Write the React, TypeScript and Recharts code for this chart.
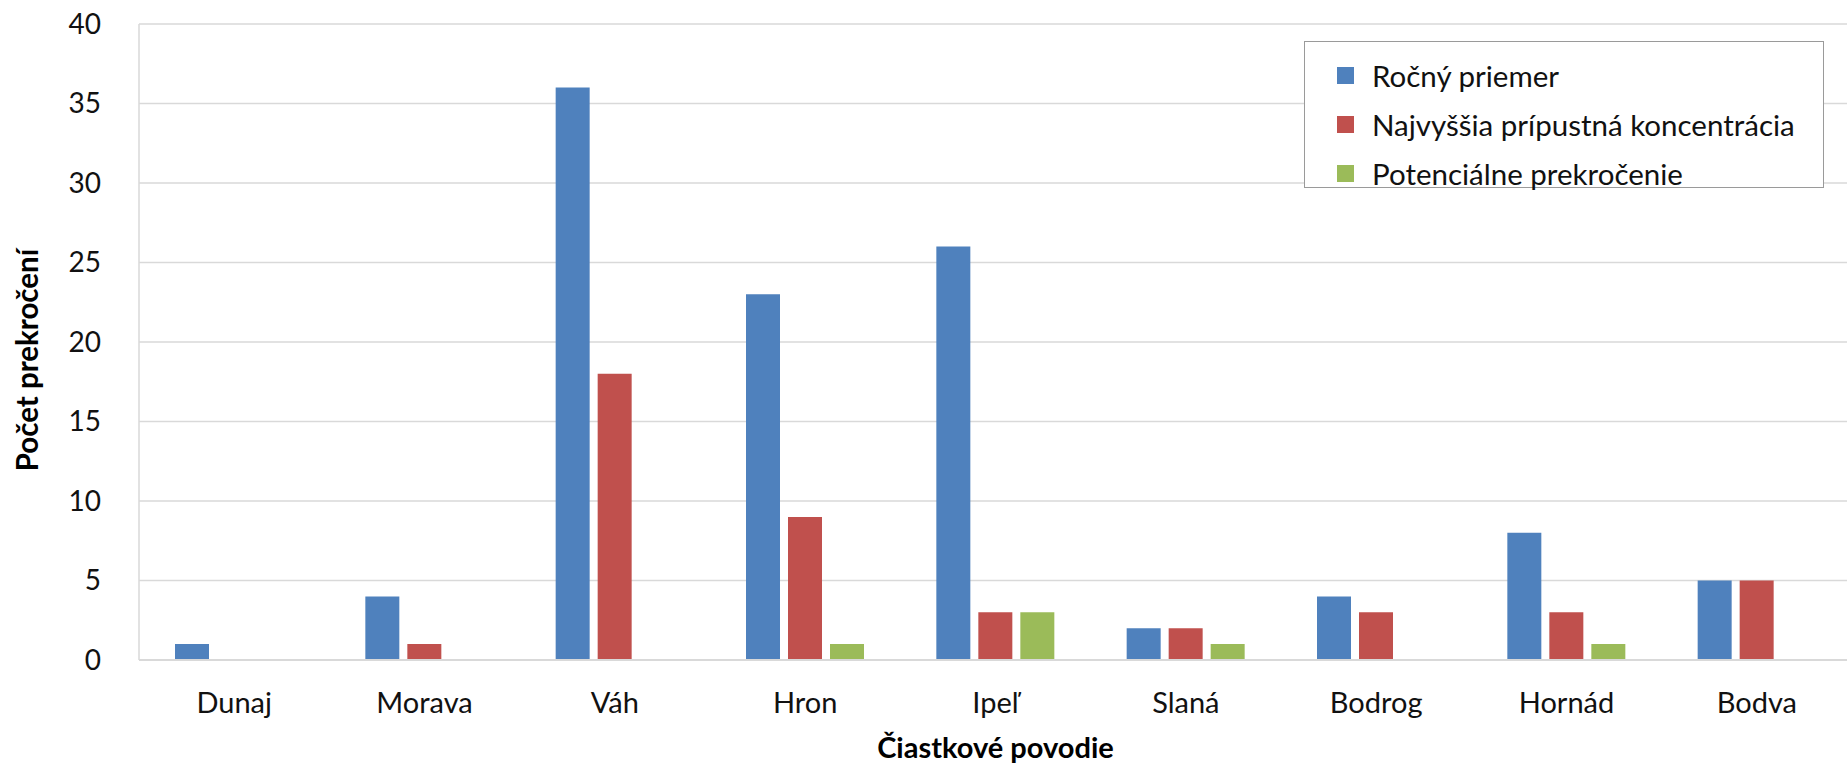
import React from "react";
import {
  BarChart,
  Bar,
  XAxis,
  YAxis,
  CartesianGrid
} from "recharts";

const povodia = ["Dunaj", "Morava", "Váh", "Hron", "Ipeľ", "Slaná", "Bodrog", "Hornád", "Bodva"];
const rocnyPriemer = [1, 4, 36, 23, 26, 2, 4, 8, 5];
const najvyssiaKoncentracia = [0, 1, 18, 9, 3, 2, 3, 3, 5];
const potencialnePrekrocenie = [0, 0, 0, 1, 3, 1, 0, 1, 0];
const yTicks = [0, 5, 10, 15, 20, 25, 30, 35, 40];

const series = [
  { key: "rocny", name: "Ročný priemer", color: "#4F81BD" },
  { key: "npk", name: "Najvyššia prípustná koncentrácia", color: "#C0504D" },
  { key: "pot", name: "Potenciálne prekročenie", color: "#9BBB59" }
];

const data = povodia.map((name, i) => ({
  name,
  rocny: rocnyPriemer[i],
  npk: najvyssiaKoncentracia[i],
  pot: potencialnePrekrocenie[i]
}));

const FONT = "Lato, 'Noto Sans', sans-serif";

// legend drawn as an overlay so it doesn't eat space from the plot
function LegendBox() {
  return (
    <div
      style={{
        position: "absolute",
        left: 1304,
        top: 41,
        width: 520,
        height: 147,
        boxSizing: "border-box",
        border: "1.5px solid #9a9a9a",
        background: "#fff",
        paddingTop: 9,
        fontFamily: FONT,
        fontSize: 29.5,
        color: "#111"
      }}
    >
      {series.map(s => (
        <div
          key={s.key}
          style={{ display: "flex", alignItems: "center", height: 49, paddingLeft: 32 }}
        >
          <span
            style={{ display: "inline-block", width: 17, height: 17, background: s.color, marginRight: 18 }}
          />
          <span>{s.name}</span>
        </div>
      ))}
    </div>
  );
}

function YTitle(props: any) {
  const vb = props.viewBox;
  const cy = vb.y + vb.height / 2 + 18;
  return (
    <text
      x={26}
      y={cy}
      transform={`rotate(-90 26 ${cy})`}
      textAnchor="middle"
      dominantBaseline="central"
      fontFamily={FONT}
      fontWeight="bold"
      fontSize={29.5}
      fill="#000"
    >
      Počet prekročení
    </text>
  );
}

export default function App() {
  return (
    <div style={{ position: "absolute", left: 0, top: 0, width: 1847, height: 764, background: "#fff", overflow: "hidden" }}>
      <BarChart
        width={1847}
        height={764}
        data={data}
        margin={{ top: 24, right: -5, left: 0, bottom: 0 }}
        barGap={8}
        style={{ fontFamily: FONT }}
      >
        <CartesianGrid vertical={false} stroke="#d9d9d9" strokeWidth={1.5} />
        <XAxis
          dataKey="name"
          height={104}
          tickLine={false}
          tickSize={0}
          tickMargin={32}
          axisLine={{ stroke: "#d9d9d9", strokeWidth: 2 }}
          tick={{ fontSize: 29, fill: "#111", fontFamily: FONT }}
          interval={0}
          label={{
            value: "Čiastkové povodie",
            position: "insideBottom",
            offset: 6,
            fontSize: 29,
            fontWeight: "bold",
            fill: "#000",
            fontFamily: FONT
          }}
        />
        <YAxis
          width={139}
          domain={[0, 40]}
          ticks={yTicks}
          interval={0}
          tickLine={false}
          tickSize={0}
          tickMargin={38}
          axisLine={{ stroke: "#d9d9d9", strokeWidth: 1.5 }}
          tick={{ fontSize: 28, fill: "#111", fontFamily: FONT }}
          label={<YTitle />}
        />
        {series.map(s => (
          <Bar
            key={s.key}
            dataKey={s.key}
            name={s.name}
            fill={s.color}
            barSize={34}
            isAnimationActive={false}
          />
        ))}
      </BarChart>
      <LegendBox />
    </div>
  );
}
